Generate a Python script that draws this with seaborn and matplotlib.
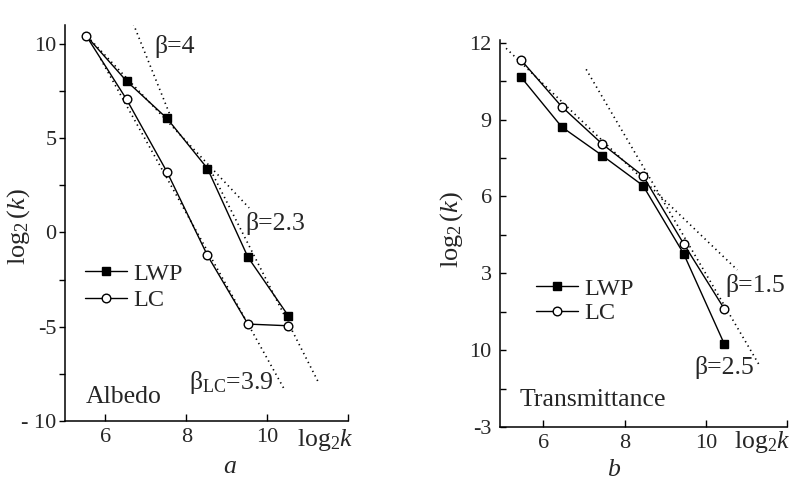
import matplotlib
matplotlib.use("Agg")
import matplotlib.pyplot as plt
import seaborn as sns
import pandas as pd
from matplotlib.lines import Line2D

# ---------------- data ----------------
x_a = [5.52, 6.52, 7.52, 8.52, 9.52, 10.52]
lwp_a = [10.44, 8.03, 6.05, 3.39, -1.31, -4.43]
lc_a = [10.44, 7.06, 3.21, -1.22, -4.86, -4.95]

x_b = [5.45, 6.45, 7.45, 8.45, 9.45, 10.45]
lwp_b = [10.65, 8.71, 7.59, 6.42, 3.76, 0.24]
lc_b = [11.32, 9.50, 8.04, 6.80, 4.15, 1.61]

# dotted fit lines (end points)
fit_a_beta4_x = [6.55, 7.60]
fit_a_beta4_y = [11.8, 6.2]
fit_a_beta23_x = [5.55, 9.55]
fit_a_beta23_y = [10.4, 1.3]
fit_a_tail_x = [8.60, 11.25]
fit_a_tail_y = [3.3, -7.9]
fit_a_lc_x = [5.88, 10.44]
fit_a_lc_y = [9.2, -8.4]

fit_b_beta15_x = [5.08, 10.77]
fit_b_beta15_y = [11.78, 3.13]
fit_b_beta25_x = [7.05, 11.32]
fit_b_beta25_y = [10.96, -0.61]

yticks_a = [-10, -5, 0, 5, 10]
yticklabels_a = ["- 10", "-5", "0", "5", "10"]
yticks_b = [-3, 0, 3, 6, 9, 12]
yticklabels_b = ["-3", "10", "3", "6", "9", "12"]
xticks = [6, 8, 10, 12]
xticklabels = ["6", "8", "10", ""]

# ---------------- style ----------------
sns.set_style("ticks")
plt.rcParams["font.family"] = ["Liberation Serif", "DejaVu Serif"]
plt.rcParams["mathtext.fontset"] = "custom"
plt.rcParams["mathtext.rm"] = "Liberation Serif"
plt.rcParams["mathtext.it"] = "Liberation Serif:italic"
plt.rcParams["mathtext.bf"] = "Liberation Serif:bold"

TICK_FS = 16
TXT_FS = 18.5
LEG_FS = 17.5
YLAB_FS = 19

fig = plt.figure(figsize=(7.91, 4.86), dpi=100)
W, H = 791, 486


def px_axes(x0, x1, ybot, ytop):
    return fig.add_axes([x0 / W, 1 - ybot / H, (x1 - x0) / W, (ybot - ytop) / H])


ax_a = px_axes(65, 348.3, 421, 25)
ax_b = px_axes(500, 787.3, 427, 40.1)

line_kw = dict(color="black", linewidth=1.0)
dot_kw = dict(color="black", linewidth=1.2, linestyle=(0, (0.8, 2.2)))


def draw_series(ax, x, y, marker, face, skip_first=False):
    df = pd.DataFrame({"x": x, "y": y})
    kws = {}
    if skip_first:
        kws["markevery"] = list(range(1, len(x)))
    sns.lineplot(data=df, x="x", y="y", ax=ax, marker=marker,
                 markersize=6.2 if marker == "o" else 6.0,
                 markerfacecolor=face, markeredgecolor="black", markeredgewidth=1.0,
                 estimator=None, sort=False, **line_kw, **kws)


def draw_fit(ax, x, y):
    df = pd.DataFrame({"x": x, "y": y})
    sns.lineplot(data=df, x="x", y="y", ax=ax, estimator=None, sort=False, **dot_kw)


# panel a
for fx, fy in [(fit_a_beta4_x, fit_a_beta4_y), (fit_a_beta23_x, fit_a_beta23_y),
               (fit_a_tail_x, fit_a_tail_y), (fit_a_lc_x, fit_a_lc_y)]:
    draw_fit(ax_a, fx, fy)
draw_series(ax_a, x_a, lwp_a, "s", "black", skip_first=True)
draw_series(ax_a, x_a, lc_a, "o", "white")

# panel b
for fx, fy in [(fit_b_beta15_x, fit_b_beta15_y), (fit_b_beta25_x, fit_b_beta25_y)]:
    draw_fit(ax_b, fx, fy)
draw_series(ax_b, x_b, lwp_b, "s", "black")
draw_series(ax_b, x_b, lc_b, "o", "white")

# axes cosmetics
for ax, ylim, yt, ytl, minor_step, ydir, ypad in [
        (ax_a, (-10, 11), yticks_a, yticklabels_a, 2.5, "out", 1.5),
        (ax_b, (-3, 12.1), yticks_b, yticklabels_b, 1.5, "in", 6)]:
    ax.set_ylim(*ylim)
    ax.set_yticks(yt)
    ax.set_yticklabels(ytl)
    ax.set_yticks([v for v in [yt[0] + minor_step * i for i in range(40)] if v <= ylim[1]],
                  minor=True)
    ax.set_xticks(xticks)
    ax.set_xticklabels(xticklabels)
    ax.tick_params(axis="both", which="both", labelsize=TICK_FS, width=1.0, color="black")
    ax.tick_params(axis="x", which="major", direction="in", length=5, pad=5)
    ax.tick_params(axis="y", which="both", direction=ydir, length=4.5, pad=ypad)
    for s in ["top", "right"]:
        ax.spines[s].set_visible(False)
    for s in ["left", "bottom"]:
        ax.spines[s].set_linewidth(1.1)
        ax.spines[s].set_color("black")
    ax.set_xlabel("")

ax_a.set_xlim(5, 12)
ax_b.set_xlim(4.93, 12)

ax_a.set_ylabel(r"$\mathrm{log}_2\,(k)$", fontsize=YLAB_FS)
ax_a.yaxis.set_label_coords(-0.117, 0.49)
ax_b.set_ylabel(r"$\mathrm{log}_2\,(k)$", fontsize=YLAB_FS)
ax_b.yaxis.set_label_coords(-0.122, 0.51)

# annotations
ax_a.text(7.71, 9.84, "β=4", fontsize=TXT_FS, ha="center", va="center")
ax_a.text(10.2, 0.48, "β=2.3", fontsize=TXT_FS, ha="center", va="center")
ax_a.text(9.12, -7.98, r"$\mathrm{β}_{\mathrm{LC}}$=3.9", fontsize=TXT_FS, ha="center", va="center")
ax_a.text(5.51, -8.72, "Albedo", fontsize=TXT_FS, ha="left", va="center")

ax_b.text(11.21, 2.52, "β=1.5", fontsize=TXT_FS, ha="center", va="center")
ax_b.text(10.45, -0.69, "β=2.5", fontsize=TXT_FS, ha="center", va="center")
ax_b.text(5.42, -1.95, "Transmittance", fontsize=TXT_FS, ha="left", va="center")

# x "axis label" at right end
fig.text(325 / W, 1 - 440 / H, r"$\mathrm{log}_2k$", fontsize=TXT_FS, ha="center", va="center")
fig.text(762 / W, 1 - 442 / H, r"$\mathrm{log}_2k$", fontsize=TXT_FS, ha="center", va="center")

# panel letters
fig.text(230 / W, 1 - 467 / H, "a", fontsize=TXT_FS, style="italic", ha="center", va="center")
fig.text(613 / W, 1 - 470 / H, "b", fontsize=TXT_FS, style="italic", ha="center", va="center")


# legends
def make_handles():
    h1 = Line2D([], [], color="black", lw=1.0, marker="s", markersize=6.0,
                markerfacecolor="black", markeredgecolor="black")
    h2 = Line2D([], [], color="black", lw=1.0, marker="o", markersize=6.2,
                markerfacecolor="white", markeredgecolor="black")
    return [h1, h2], ["LWP", "LC"]


for ax, anchor, spacing in [(ax_a, (0.07, 0.40), 0.2), (ax_b, (0.125, 0.386), 0.1)]:
    hs, ls = make_handles()
    ax.legend(hs, ls, loc="upper left", bbox_to_anchor=anchor, frameon=False,
              fontsize=LEG_FS, handlelength=1.75, handletextpad=0.25,
              labelspacing=spacing, borderpad=0, borderaxespad=0)

fig.savefig("out.png", dpi=100)
